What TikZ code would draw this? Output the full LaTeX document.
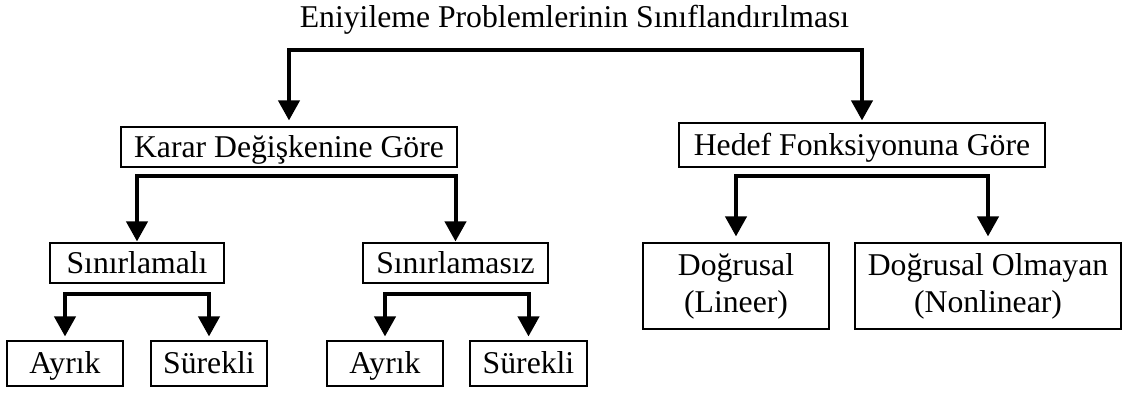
\documentclass[tikz,border=0pt]{standalone}
\usepackage{fontspec}
\setmainfont{Liberation Serif}
\usetikzlibrary{arrows.meta}
\begin{document}
\begin{tikzpicture}[x=1pt,y=-1pt,
  txt/.style={font=\fontsize{31.7pt}{37pt}\selectfont},
  box/.style={txt, draw, line width=1.1pt, inner sep=0pt, text height=25pt, text depth=5pt},
  box2/.style={txt, draw, line width=1.1pt, inner sep=0pt, align=center},
  fork/.style={line width=4pt, {Triangle[length=20pt,width=21pt]}-{Triangle[length=20pt,width=21pt]}}
]
\useasboundingbox (0,0) rectangle (1127,394);

\node[txt, anchor=base] (title) at (574.5,27) {Eniyileme Problemlerinin Sınıflandırılması};

\node[box, minimum width=336pt, minimum height=40pt] (karar) at (289,147) {Karar Değişkenine Göre};
\node[box, minimum width=366pt, minimum height=44pt] (hedef) at (862,145) {Hedef Fonksiyonuna Göre};

\node[box, minimum width=174pt, minimum height=40pt] (sinli) at (137,263) {Sınırlamalı};
\node[box, minimum width=185pt, minimum height=40pt] (sinsiz) at (455.5,263) {Sınırlamasız};

\node[box, minimum width=116pt, minimum height=45pt] (ayrik1) at (65,363.5) {Ayrık};
\node[box, minimum width=116pt, minimum height=45pt] (surekli1) at (209,363.5) {Sürekli};
\node[box, minimum width=116pt, minimum height=45pt] (ayrik2) at (385,363.5) {Ayrık};
\node[box, minimum width=117pt, minimum height=45pt] (surekli2) at (528.5,363.5) {Sürekli};

\node[box2, minimum width=186pt, minimum height=86pt] (dog) at (736,286) {Doğrusal\\(Lineer)};
\node[box2, minimum width=266pt, minimum height=86pt] (dogol) at (988,286) {Doğrusal Olmayan\\(Nonlinear)};

\draw[fork] ([yshift=6pt]karar.north) |- ([yshift=-23pt]title.base) -| ([yshift=2pt]hedef.north);
\draw[fork] ([yshift=1pt]sinli.north) |- ([yshift=-8pt]karar.south) -| ([yshift=1pt]sinsiz.north);
\draw[fork] ([yshift=6pt]dog.north) |- ([yshift=-8pt]hedef.south) -| ([yshift=6pt]dogol.north);
\draw[fork] ([yshift=4pt]ayrik1.north) |- ([yshift=-10pt]sinli.south) -| ([yshift=4pt]surekli1.north);
\draw[fork] ([yshift=4pt]ayrik2.north) |- ([yshift=-10pt]sinsiz.south) -| ([yshift=4pt]surekli2.north);
\end{tikzpicture}
\end{document}
